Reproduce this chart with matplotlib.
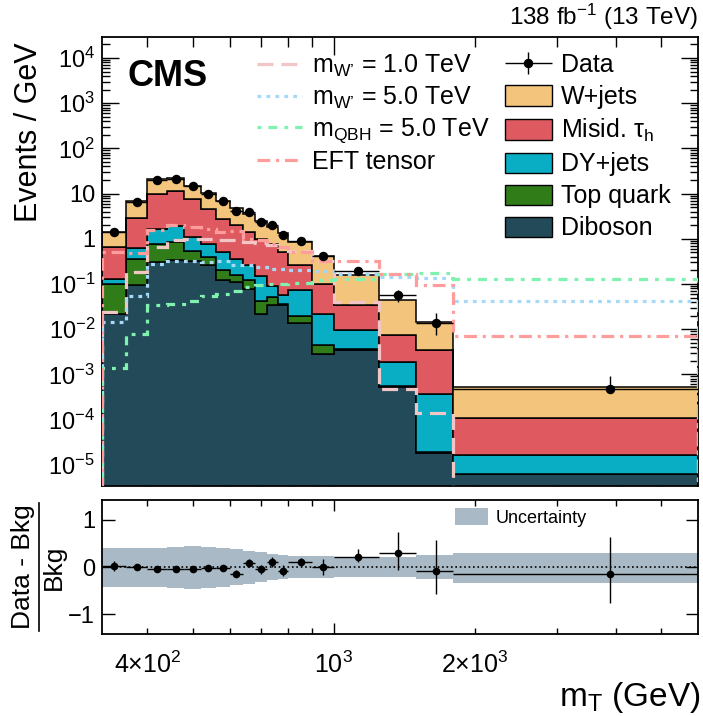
import numpy as np
import matplotlib
matplotlib.use('Agg')
import matplotlib.pyplot as plt
from matplotlib.patches import Patch
from matplotlib.lines import Line2D
from matplotlib.ticker import FixedLocator, FixedFormatter, FuncFormatter, LogLocator, NullFormatter
from matplotlib.legend_handler import HandlerErrorbar

plt.rcParams['font.family'] = ['Liberation Sans', 'DejaVu Sans']
plt.rcParams['mathtext.fontset'] = 'custom'
plt.rcParams['mathtext.rm'] = 'Liberation Sans'
plt.rcParams['mathtext.it'] = 'Liberation Sans:italic'
plt.rcParams['mathtext.bf'] = 'Liberation Sans:bold'

# bin edges in mT (GeV)
edges = [320, 360, 400, 440, 480, 520, 560, 600, 640, 680, 720, 760, 800, 900, 1000, 1250, 1500, 1800, 6000]

# backgrounds, events / GeV per bin (stacked bottom -> top)
diboson = [0.022, 0.093, 0.306, 0.334, 0.316, 0.258, 0.12, 0.11, 0.076, 0.022, 0.035, 0.035, 0.0139, 0.0028, 0.0034, 5.4e-4, 1.8e-5, 6.2e-6]
top = [0.079, 0.271, 0.474, 0.516, 0.214, 0.137, 0.08, 0.045, 0.044, 0.019, 0.016, 0.002, 0.0061, 0.0017, 0.0002, 2e-5, 1e-6, 1e-7]
dyjets = [0.030, 0.262, 0.90, 1.07, 0.57, 0.385, 0.31, 0.209, 0.148, 0.109, 0.039, 0.021, 0.055, 0.0175, 0.0058, 1.34e-3, 3.5e-4, 9.8e-6]
misid = [0.527, 2.264, 7.92, 9.38, 6.3, 3.89, 2.29, 1.626, 1.122, 0.86, 0.69, 0.442, 0.185, 0.079, 0.0241, 5.6e-3, 3.03e-3, 9.4e-5]
wjets = [0.742, 3.81, 10.9, 10.7, 7.5, 5.43, 4.1, 2.81, 2.11, 1.44, 1.02, 0.82, 0.59, 0.319, 0.1265, 0.0359, 0.0114, 4.3e-4]

# signals
wprime1 = [0.024, 0.18, 0.66, 0.95, 1.0, 1.0, 0.95, 0.92, 0.85, 0.80, 0.72, 0.65, 0.55, 0.32, 0.040, 4.8e-4, 1.4e-4, 1e-7]
wprime5 = [0.0147, 0.054, 0.28, 0.316, 0.316, 0.305, 0.33, 0.268, 0.258, 0.237, 0.218, 0.21, 0.20, 0.19, 0.169, 0.14, 0.138, 0.043]
qbh5 = [1.4e-3, 7.9e-3, 0.0335, 0.037, 0.043, 0.055, 0.061, 0.07, 0.085, 0.093, 0.10, 0.10, 0.105, 0.124, 0.131, 0.17, 0.176, 0.131]
eft = [0.50, 0.49, 1.54, 2.0, 1.83, 1.68, 1.42, 1.45, 1.0, 0.93, 0.78, 0.66, 0.51, 0.33, 0.32, 0.17, 0.095, 7.2e-3]

# data
data = [1.42, 6.54, 19.8, 21.2, 14.4, 10.0, 6.78, 4.22, 3.87, 2.32, 1.99, 1.21, 0.912, 0.416, 0.193, 0.0558, 0.01337, 4.68e-4]
data_up = [0.19, 0.40, 0.70, 0.73, 0.60, 0.50, 0.41, 0.33, 0.31, 0.24, 0.22, 0.17, 0.095, 0.065, 0.028, 0.019, 0.010, 4.7e-4]
data_dn = [0.19, 0.40, 0.70, 0.73, 0.60, 0.50, 0.41, 0.33, 0.31, 0.24, 0.22, 0.17, 0.095, 0.065, 0.028, 0.015, 0.0059, 1e-5]

# ratio panel
ratio = [0.02, -0.01, -0.04, -0.04, -0.04, -0.02, -0.02, -0.14, 0.09, -0.05, 0.11, -0.08, 0.11, 0.0, 0.22, 0.29, -0.08, -0.14]
ratio_up = [0.10, 0.05, 0.03, 0.03, 0.04, 0.05, 0.06, 0.07, 0.08, 0.10, 0.11, 0.12, 0.08, 0.17, 0.16, 0.46, 0.65, 0.78]
ratio_dn = [0.10, 0.05, 0.03, 0.03, 0.04, 0.05, 0.06, 0.07, 0.08, 0.10, 0.11, 0.12, 0.08, 0.17, 0.12, 0.35, 0.49, 0.62]
band_up = [0.40, 0.40, 0.41, 0.43, 0.44, 0.43, 0.41, 0.38, 0.34, 0.31, 0.28, 0.26, 0.24, 0.23, 0.21, 0.21, 0.26, 0.29]
band_dn = [0.42, 0.42, 0.43, 0.45, 0.46, 0.45, 0.42, 0.39, 0.35, 0.31, 0.28, 0.26, 0.24, 0.23, 0.21, 0.21, 0.26, 0.34]

edges = np.array(edges, dtype=float)
centers = 0.5 * (edges[1:] + edges[:-1])
halfw = 0.5 * (edges[1:] - edges[:-1])

fig = plt.figure(figsize=(7.03, 7.16), dpi=100)
ax = fig.add_axes([0.1451, 0.3212, 0.8478, 0.6271])
axr = fig.add_axes([0.1451, 0.1145, 0.8478, 0.1872])

# stacked backgrounds
bkg_names = ['Diboson', 'Top quark', 'DY+jets', 'Misid. τ$_\\mathrm{h}$', 'W+jets']
bkg_vals = [diboson, top, dyjets, misid, wjets]
bkg_cols = ['#224a58', '#307c18', '#0aaec4', '#de5a60', '#f2c47c']
cum = np.cumsum(np.array(bkg_vals), axis=0)
floor = np.full(len(centers), 1e-8)
bkg_handles = []
for i in range(len(bkg_vals)):
    lower = cum[i - 1] if i > 0 else floor
    ax.stairs(cum[i], edges, baseline=lower, fill=True, facecolor=bkg_cols[i],
              edgecolor='black', linewidth=1.1, zorder=2)
    bkg_handles.append(Patch(facecolor=bkg_cols[i], edgecolor='black', linewidth=1.0))

# signals
sig_vals = [wprime1, wprime5, qbh5, eft]
sig_cols = ['#f2c6c6', '#a6d8f8', '#80f2b0', '#ff9d9d']
sig_ls = [(0, (5, 2.5)), (0, (1.2, 1.6)), (0, (1.2, 2.2, 2.8, 2.2)), (0, (4, 1.8, 1, 1.8))]
sig_names = ["m$_\\mathrm{W\u2019}$ = 1.0 TeV", "m$_\\mathrm{W\u2019}$ = 5.0 TeV",
             "m$_\\mathrm{QBH}$ = 5.0 TeV", 'EFT tensor']
sig_handles = []
for v, c, ls in zip(sig_vals, sig_cols, sig_ls):
    ax.stairs(v, edges, baseline=1e-8, color=c, linestyle=ls, linewidth=2.3, zorder=3)
    sig_handles.append(Line2D([], [], color=c, linestyle=ls, linewidth=2.3))

# data
dat = ax.errorbar(centers, data, xerr=halfw, yerr=[data_dn, data_up], fmt='o', color='black',
                  ms=5.8, lw=1.0, capsize=0, zorder=5)

ax.set_xscale('log')
ax.set_yscale('log')
ax.set_xlim(320, 6000)
ax.set_ylim(3.4e-6, 2.9e4)

yt = [1e-5, 1e-4, 1e-3, 1e-2, 1e-1, 1, 10, 1e2, 1e3, 1e4]
ytl = ['$10^{-5}$', '$10^{-4}$', '$10^{-3}$', '$10^{-2}$', '$10^{-1}$', '1', '10',
       '$10^{2}$', '$10^{3}$', '$10^{4}$']
ax.yaxis.set_major_locator(FixedLocator(yt))
ax.yaxis.set_major_formatter(FixedFormatter(ytl))
ax.yaxis.set_minor_locator(LogLocator(base=10, subs=np.arange(2, 10), numticks=30))
ax.yaxis.set_minor_formatter(NullFormatter())

minor_x = [400, 500, 600, 700, 800, 900, 2000, 3000, 4000, 5000]
for a in (ax, axr):
    a.xaxis.set_major_locator(FixedLocator([1000]))
    a.xaxis.set_minor_locator(FixedLocator(minor_x))
    a.tick_params(which='both', direction='in', top=True, right=True, labelsize=17, width=1.0)
    for s in a.spines.values():
        s.set_linewidth(1.3)

ax.tick_params(axis='x', which='major', length=13)
ax.tick_params(axis='x', which='minor', length=7)
ax.tick_params(axis='y', which='major', length=12, pad=5)
ax.tick_params(axis='y', which='minor', length=6)
ax.tick_params(axis='x', which='both', labelbottom=False)

ax.text(-0.122, 0.987, 'Events / GeV', rotation=90, ha='center', va='top',
        fontsize=22, transform=ax.transAxes)
ax.text(0.043, 0.95, 'CMS', fontsize=26, fontweight='bold', ha='left', va='top',
        transform=ax.transAxes)
fig.text(0.993, 0.977, '138 fb$^{-1}$ (13 TeV)', ha='right', va='center', fontsize=17.5)

leg1 = ax.legend(sig_handles, sig_names, loc='upper left', bbox_to_anchor=(0.26, 0.964),
                 fontsize=18, frameon=False, handlelength=1.8, handletextpad=0.4,
                 labelspacing=0.21, borderpad=0, borderaxespad=0)
ax.add_artist(leg1)
ax.legend([dat] + bkg_handles[::-1], ['Data'] + bkg_names[::-1], loc='upper left',
          bbox_to_anchor=(0.676, 0.964), fontsize=18, frameon=False, handlelength=1.88,
          handleheight=0.88, handletextpad=0.36, labelspacing=0.32, borderpad=0, borderaxespad=0,
          handler_map={type(dat): HandlerErrorbar(xerr_size=0.94, yerr_size=0.45)})

# ratio panel
axr.stairs(band_up, edges, baseline=-np.array(band_dn), fill=True, color='#a9bac6',
           linewidth=0, zorder=1)
axr.axhline(0, color='black', linestyle=':', linewidth=1.2, zorder=2)
axr.errorbar(centers, ratio, xerr=halfw, yerr=[ratio_dn, ratio_up], fmt='o', color='black',
             ms=4.5, lw=1.0, capsize=0, zorder=4)
axr.set_xscale('log')
axr.set_xlim(320, 6000)
axr.set_ylim(-1.42, 1.42)
axr.xaxis.set_major_locator(FixedLocator([1000]))
axr.xaxis.set_minor_locator(FixedLocator(minor_x))
axr.xaxis.set_major_formatter(FixedFormatter(['$10^{3}$']))
axr.xaxis.set_minor_formatter(FuncFormatter(
    lambda v, p: {400: '4×10$^{2}$', 2000: '2×10$^{3}$'}.get(int(round(v)), '')))
axr.yaxis.set_major_locator(FixedLocator([-1, 0, 1]))
axr.yaxis.set_major_formatter(FixedFormatter(['−1', '0', '1']))
axr.tick_params(axis='x', which='both', labelsize=18)
axr.tick_params(axis='x', which='major', length=8, pad=13)
axr.tick_params(axis='x', which='minor', length=4.5, pad=13)
axr.tick_params(axis='y', which='major', length=9, pad=5)
axr.tick_params(axis='y', which='minor', length=0)

# ratio y title as a built-up fraction
axr.text(-0.1326, 0.5, 'Data - Bkg', rotation=90, ha='center', va='center', fontsize=19,
         transform=axr.transAxes)
axr.text(-0.080, 0.5, 'Bkg', rotation=90, ha='center', va='center', fontsize=19,
         transform=axr.transAxes)
axr.add_line(Line2D([-0.1057, -0.1057], [0.025, 0.975], color='black', linewidth=1.2,
                    transform=axr.transAxes, clip_on=False))
axr.text(1.004, -0.47, 'm$_\\mathrm{T}$ (GeV)', ha='right', va='center', fontsize=24,
         transform=axr.transAxes)
axr.legend([Patch(facecolor='#a9bac6', linewidth=0)], ['Uncertainty'], loc='upper left',
           bbox_to_anchor=(0.592, 0.94), fontsize=13, frameon=False, handlelength=1.85,
           handleheight=1.1, handletextpad=0.4, borderpad=0, borderaxespad=0)

fig.savefig('out.png', dpi=100)
